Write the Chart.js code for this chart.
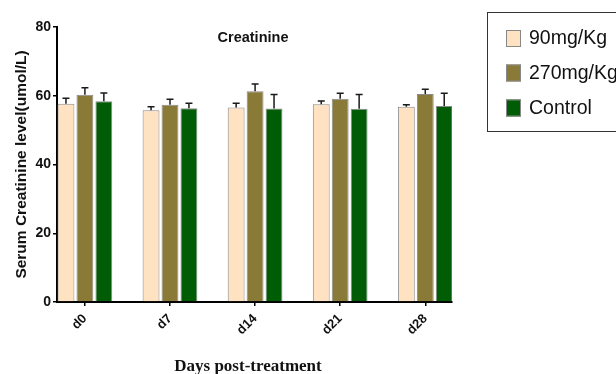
<!DOCTYPE html>
<html>
<head>
<meta charset="utf-8">
<script src="https://cdn.jsdelivr.net/npm/chart.js@4.4.1/dist/chart.umd.min.js"></script>
<style>
  html, body { margin: 0; padding: 0; background: #fff; }
  #wrap { width: 616px; height: 374px; }
</style>
</head>
<body>
<div id="wrap"><canvas id="chart"></canvas></div>
<script>
// datos
const days = ['d0', 'd7', 'd14', 'd21', 'd28'];
const yTicks = [0, 20, 40, 60, 80];
const seriesNames = ['90mg/Kg', '270mg/Kg', 'Control'];

const dose90 = [57.7, 55.8, 56.6, 57.5, 56.8];
const dose90Err = [1.6, 1.0, 1.2, 1.0, 0.6];
const dose270 = [60.3, 57.4, 61.3, 59.1, 60.5];
const dose270Err = [2.0, 1.6, 2.1, 1.6, 1.4];
const control = [58.4, 56.4, 56.3, 56.2, 57.0];
const controlErr = [2.4, 1.4, 4.1, 4.2, 3.7];

const fills = ['#FFE2C2', '#8A7A38', '#005C05'];
const font = "'Liberation Sans', Arial, sans-serif";

function toPoints(vals) {
  return vals.map((v, i) => ({ x: i, y: v }));
}

// barras de error (solo hacia arriba, con tope)
const errorBars = {
  id: 'errorBars',
  afterDatasetsDraw(chart) {
    const ctx = chart.ctx;
    const yScale = chart.scales.y;
    ctx.save();
    ctx.strokeStyle = '#1a1a1a';
    ctx.lineWidth = 1.5;
    chart.data.datasets.forEach((ds, di) => {
      const meta = chart.getDatasetMeta(di);
      meta.data.forEach((bar, i) => {
        const top = yScale.getPixelForValue(ds.data[i].y + ds.errors[i]);
        ctx.beginPath();
        ctx.moveTo(bar.x, bar.y);
        ctx.lineTo(bar.x, top);
        ctx.moveTo(bar.x - 3.5, top);
        ctx.lineTo(bar.x + 3.5, top);
        ctx.stroke();
      });
    });
    ctx.restore();
  }
};

// titulo, titulo del eje x y leyenda con recuadro
const extras = {
  id: 'extras',
  afterDraw(chart) {
    const ctx = chart.ctx;
    ctx.save();
    ctx.fillStyle = '#111';
    ctx.font = 'bold 14.5px ' + font;
    ctx.textAlign = 'center';
    ctx.textBaseline = 'middle';
    ctx.fillText('Creatinine', 253, 38);

    ctx.font = "bold 17px 'Liberation Serif', 'Times New Roman', serif";
    ctx.fillText('Days post-treatment', 248, 367);

    // leyenda
    ctx.strokeStyle = '#333';
    ctx.lineWidth = 1;
    ctx.strokeRect(487.5, 12.5, 140, 119);
    ctx.font = '19.5px ' + font;
    ctx.textAlign = 'left';
    const rows = [38, 72.5, 107.5];
    chart.data.datasets.forEach((ds, i) => {
      const y = rows[i];
      ctx.fillStyle = ds.backgroundColor;
      ctx.fillRect(506, y - 8, 15, 17);
      ctx.strokeStyle = '#888';
      ctx.strokeRect(506.5, y - 7.5, 14, 16);
      ctx.fillStyle = '#111';
      ctx.fillText(ds.label, 529, y + 1);
    });
    ctx.restore();
  }
};

const errs = [dose90Err, dose270Err, controlErr];
const datasets = [dose90, dose270, control].map((vals, i) => ({
  label: seriesNames[i],
  data: toPoints(vals),
  errors: errs[i],
  backgroundColor: fills[i],
  borderColor: '#8a8a8a',
  borderWidth: 1,
  borderSkipped: 'bottom',
  categoryPercentage: 0.668,
  barPercentage: 0.89
}));

const ctx = document.getElementById('chart').getContext('2d');
const chart = new Chart(ctx, {
  type: 'bar',
  data: { datasets: datasets },
  options: {
    responsive: true,
    maintainAspectRatio: false,
    animation: false,
    layout: { padding: { left: 0, top: 27, right: 164, bottom: 0 } },
    plugins: {
      legend: { display: false },
      tooltip: { enabled: false }
    },
    scales: {
      x: {
        type: 'linear',
        offset: false,
        min: -0.328,
        max: 4.314,
        afterBuildTicks(scale) {
          scale.ticks = days.map((d, i) => ({ value: i }));
        },
        afterFit(scale) { scale.height = 72; },
        ticks: {
          callback: (v) => days[v],
          minRotation: 45,
          maxRotation: 45,
          color: '#111',
          font: { family: font, size: 13, weight: 'bold' },
          padding: 5
        },
        grid: { offset: false, drawOnChartArea: false, tickLength: 4, color: '#000', lineWidth: 1.5 },
        border: { color: '#000', width: 2 }
      },
      y: {
        min: 0,
        max: 80,
        afterBuildTicks(scale) {
          scale.ticks = yTicks.map(v => ({ value: v }));
        },
        afterFit(scale) { scale.width = 57; },
        ticks: {
          color: '#111',
          font: { family: font, size: 14, weight: 'bold' },
          padding: 2
        },
        grid: { drawOnChartArea: false, tickLength: 4, color: '#000', lineWidth: 1.5 },
        border: { color: '#000', width: 2 },
        title: {
          display: true,
          text: 'Serum Creatinine level(umol/L)',
          color: '#111',
          font: { family: font, size: 15.5, weight: 'bold' },
          padding: { top: 12, bottom: 0 }
        }
      }
    }
  },
  plugins: [errorBars, extras]
});
</script>
</body>
</html>
